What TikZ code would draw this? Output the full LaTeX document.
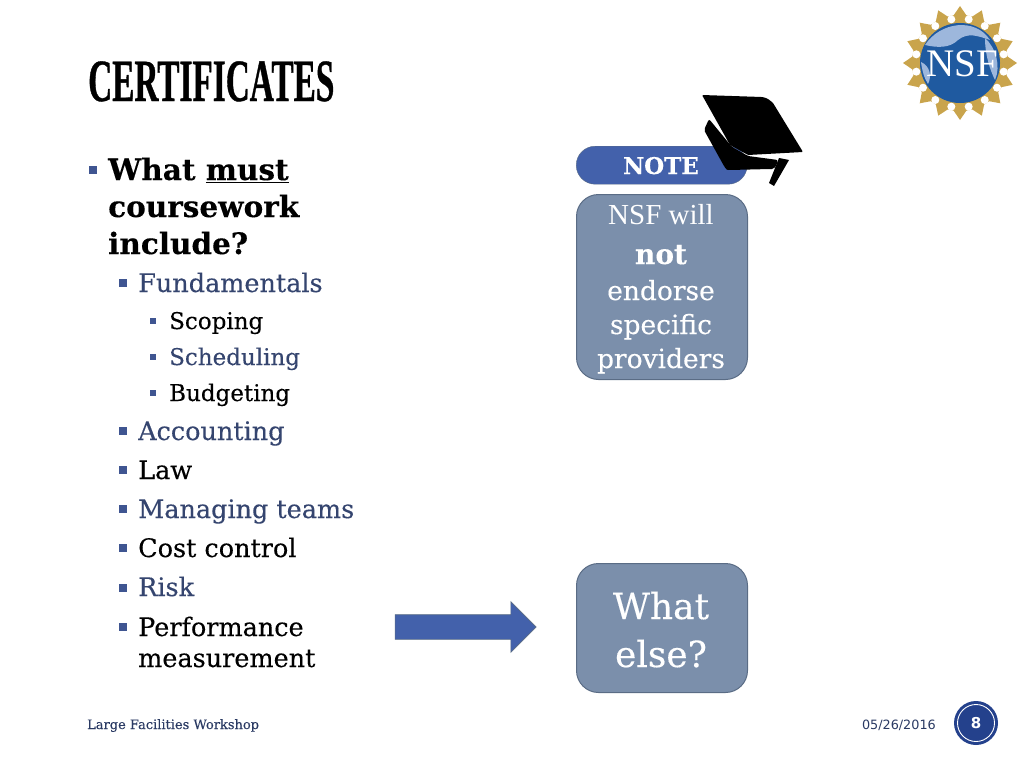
\documentclass[tikz,border=0pt]{standalone}
\usepackage{fontspec}
\setmainfont[FakeBold=0.25]{DejaVu Serif}[BoldFont={DejaVu Serif Bold}]
\newfontfamily\titlefont[FakeStretch=0.555,FakeBold=0.6]{Liberation Serif Bold}
\newfontfamily\capfont{Liberation Serif}
\newfontfamily\footfont{DejaVu Sans}
\usetikzlibrary{shapes.arrows,shapes.geometric,calc}
\definecolor{navy}{HTML}{2A3A63}
\definecolor{slate}{HTML}{35456F}
\definecolor{bullet}{HTML}{3F5591}
\definecolor{boxfill}{HTML}{7B8FAB}
\definecolor{boxline}{HTML}{5A6C85}
\definecolor{noteblue}{HTML}{4361AB}
\definecolor{gold}{HTML}{C9A44C}
\definecolor{globe}{HTML}{1F5AA0}
\definecolor{land}{HTML}{9DB7DC}
\definecolor{badge}{HTML}{24418C}
\tikzset{
  x=1pt,y=-1pt,
  lvlA/.style={anchor=base west,inner sep=0pt,font=\fontsize{29.5}{32}\selectfont\bfseries,text=black},
  lvlB/.style={anchor=base west,inner sep=0pt,font=\fontsize{25.5}{28}\selectfont},
  lvlC/.style={anchor=base west,inner sep=0pt,font=\fontsize{23}{26}\selectfont},
  dotb/.style={fill=bullet,minimum size=7.5pt,inner sep=0pt,anchor=center},
  dotc/.style={fill=bullet,minimum size=6.5pt,inner sep=0pt,anchor=center},
  greybox/.style={draw=boxline,fill=boxfill,line width=1pt,rounded corners=22pt,text=white,anchor=north west,inner sep=0pt,minimum width=171pt,align=center},
  boxtext/.style={anchor=base,inner sep=0pt,text=white,font=\fontsize{26.5}{28}\selectfont},
  bigtext/.style={anchor=base,inner sep=0pt,text=white,font=\fontsize{36}{42}\selectfont},
}
\begin{document}
\begin{tikzpicture}
\useasboundingbox (0,0) rectangle (1024,768);
\node[anchor=base west,inner sep=0pt,font=\fontsize{60}{64}\titlefont] (title) at (88,101) {CERTIFICATES};
% bullets
\node[fill=bullet,minimum size=7.5pt,inner sep=0pt] (b0) at (93,170) {};
\node[lvlA] (t0) at (108,180) {What \underline{must}};
\node[lvlA] (t0b) at (108,217) {coursework};
\node[lvlA] (t0c) at (108,254) {include?};
\node[dotb] (b1) at (123,283) {};
\node[lvlB,text=slate] (t1) at (138,292) {Fundamentals};
\node[dotc] (b2) at (153,321) {};
\node[lvlC,text=black] (t2) at (169,329) {Scoping};
\node[dotc] (b3) at (153,357) {};
\node[lvlC,text=slate] (t3) at (169,365) {Scheduling};
\node[dotc] (b4) at (153,393) {};
\node[lvlC,text=black] (t4) at (169,401) {Budgeting};
\node[dotb] (b5) at (123,431) {};
\node[lvlB,text=slate] (t5) at (138,440) {Accounting};
\node[dotb] (b6) at (123,470) {};
\node[lvlB,text=black] (t6) at (138,479) {Law};
\node[dotb] (b7) at (123,509) {};
\node[lvlB,text=slate] (t7) at (138,518) {Managing teams};
\node[dotb] (b8) at (123,548) {};
\node[lvlB,text=black] (t8) at (138,557) {Cost control};
\node[dotb] (b9) at (123,588) {};
\node[lvlB,text=slate] (t9) at (138,596) {Risk};
\node[dotb] (b10) at (123,627) {};
\node[lvlB,text=black] (t10) at (138,636) {Performance};
\node[lvlB,text=black] (t10b) at (138,667) {measurement};
% note
\node[draw=boxline,fill=noteblue,rounded corners=19pt,anchor=north west,minimum width=171pt,minimum height=38pt,inner sep=0pt] (note) at (576,146) {};
\node[anchor=base,inner sep=0pt,text=white,font=\fontsize{23}{26}\selectfont\bfseries] (notet) at (661,174) {NOTE};
\node[greybox,minimum height=185pt] (box1) at (576,194) {};
\node[anchor=base,inner sep=0pt,text=white,font=\fontsize{29}{30}\capfont] (l1) at (661,224) {NSF will};
\node[anchor=base,inner sep=0pt,text=white,font=\fontsize{28}{32}\selectfont\bfseries] (l2) at (661,264) {not};
\node[boxtext] (l3) at (661,300) {endorse};
\node[boxtext] (l4) at (661,334) {specific};
\node[boxtext] (l5) at (661,368) {providers};
\node[greybox,minimum height=129pt] (box2) at (576,563) {};
\node[bigtext] (w1) at (661,619) {What};
\node[bigtext] (w2) at (661,667) {else?};
% arrow
\node[single arrow,draw=boxline,fill=noteblue,line width=.6pt,minimum height=141pt,single arrow head extend=13pt,inner sep=0pt,anchor=center] (arrow) at (459.5,627) {\rule{0pt}{24pt}};
% cap
\fill[black,rounded corners=1pt] (702,95) -- (762,97) .. controls (767,98) and (770,100) .. (773,103) -- (803,152) -- (748,155) -- (730,145) -- cycle;
\fill[black,rounded corners=2pt] (709,119) -- (732,147) -- (748,156) -- (778,160) .. controls (776,167) and (774,169) .. (770,169) -- (730,170) .. controls (727,170) and (726,169) .. (724,166) -- (704,130) -- cycle;
\fill[black] (779,158) -- (789,160) -- (774,186) -- (769,183) -- cycle;
% logo
\foreach \a in {0,22.5,...,337.5}{
  \fill[gold] ($(960,63)+(\a:57)$) -- ($(960,63)+(\a+10:46)$) -- ($(960,63)+(\a-10:46)$) -- cycle;
}
\fill[gold] (960,63) circle (48);
\foreach \a in {11.25,33.75,...,348.75}{
  \fill[white] ($(960,63)+(\a:44.5)$) circle (4);
}
\fill[globe] (960,63) circle (40);
\fill[land] (925,45) .. controls (940,22) and (975,17) .. (990,40) .. controls (978,36) and (968,32) .. (958,40) .. controls (950,48) and (938,48) .. (925,45) -- cycle;
\fill[land] (985,38) .. controls (996,48) and (1001,66) .. (995,80) .. controls (990,70) and (985,55) .. (985,38) -- cycle;
\fill[land] (921,62) .. controls (922,70) and (924,78) .. (928,84) .. controls (932,76) and (930,66) .. (921,62) -- cycle;
\node[anchor=base,inner sep=0pt,text=white,font=\fontsize{39}{42}\capfont] (nsf) at (962,77) {NSF};
% footer
\node[anchor=base west,inner sep=0pt,text=navy,font=\fontsize{13}{16}\selectfont] (foot) at (87,729) {Large Facilities Workshop};
\node[anchor=base east,inner sep=0pt,text=navy,font=\fontsize{12.8}{16}\footfont] (date) at (936,729) {05/26/2016};
\node[circle,fill=badge,minimum size=44pt,inner sep=0pt] (badge) at (976,723) {};
\draw[white,line width=.9pt] (badge.center) circle (18.5);
\node[inner sep=0pt,text=white,font=\fontsize{15}{18}\footfont\bfseries] (num) at (976,723) {8};
\end{tikzpicture}
\end{document}
